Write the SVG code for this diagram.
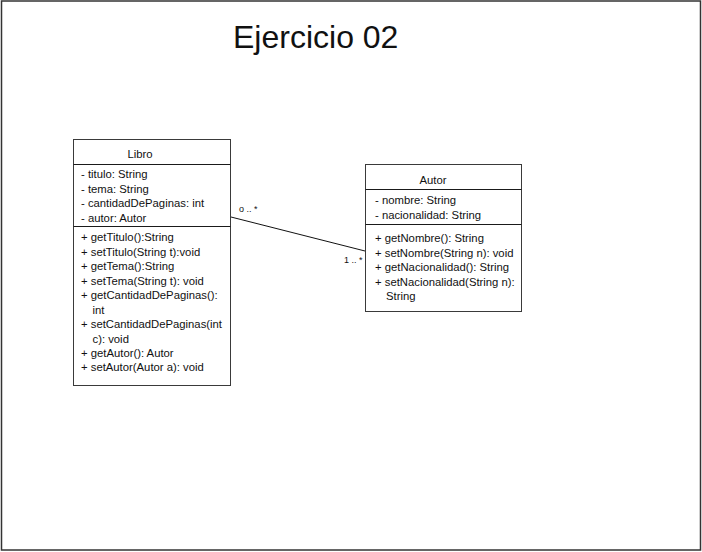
<svg xmlns="http://www.w3.org/2000/svg" width="702" height="552" viewBox="0 0 702 552">
<style>
.box{fill:#fff;stroke:#3a3a3a;stroke-width:1}
.sep{stroke:#1a1a1a;stroke-width:1}
.t{font-family:"Liberation Sans",Arial,sans-serif;font-size:11.3px;fill:#111}
.c{text-anchor:middle}
.lbl{font-family:"Liberation Sans",Arial,sans-serif;font-size:9px;fill:#111}
</style>
<rect x="0" y="0" width="702" height="552" fill="#fff"/>
<rect x="1.5" y="1" width="699" height="549" fill="none" stroke="#333" stroke-width="1.5"/>
<text x="233" y="48" font-family="Liberation Sans,Arial,sans-serif" font-size="32" fill="#111">Ejercicio 02</text>
<g id="connectors">
<line x1="231" y1="217" x2="365" y2="251" stroke="#111" stroke-width="1"/>
<text class="lbl" x="239" y="212">o .. *</text>
<text class="lbl" x="344" y="263">1 .. *</text>
</g>
<g id="libro">
<rect class="box" x="73.5" y="139.5" width="157" height="246"/>
<line class="sep" x1="73.5" y1="164.5" x2="230.5" y2="164.5"/>
<line class="sep" x1="73.5" y1="226.5" x2="230.5" y2="226.5"/>
<text class="t c" x="140" y="158">Libro</text>
<text class="t" x="81" y="178">- titulo: String</text>
<text class="t" x="81" y="192.5">- tema: String</text>
<text class="t" x="81" y="207">- cantidadDePaginas: int</text>
<text class="t" x="81" y="222">- autor: Autor</text>
<text class="t" x="81" y="241">+ getTitulo():String</text>
<text class="t" x="81" y="256">+ setTitulo(String t):void</text>
<text class="t" x="81" y="270">+ getTema():String</text>
<text class="t" x="81" y="284.5">+ setTema(String t): void</text>
<text class="t" x="81" y="299">+ getCantidadDePaginas():</text>
<text class="t" x="92.5" y="313.5">int</text>
<text class="t" x="81" y="328">+ setCantidadDePaginas(int</text>
<text class="t" x="92.5" y="342.5">c): void</text>
<text class="t" x="81" y="356.5">+ getAutor(): Autor</text>
<text class="t" x="81" y="371">+ setAutor(Autor a): void</text>
</g>
<g id="autor">
<rect class="box" x="365.5" y="164.5" width="156" height="147"/>
<line class="sep" x1="365.5" y1="189.5" x2="521.5" y2="189.5"/>
<line class="sep" x1="365.5" y1="224.5" x2="521.5" y2="224.5"/>
<text class="t c" x="433" y="183.5">Autor</text>
<text class="t" x="375" y="204">- nombre: String</text>
<text class="t" x="375" y="218.5">- nacionalidad: String</text>
<text class="t" x="375" y="242">+ getNombre(): String</text>
<text class="t" x="375" y="256.5">+ setNombre(String n): void</text>
<text class="t" x="375" y="271">+ getNacionalidad(): String</text>
<text class="t" x="375" y="285.5">+ setNacionalidad(String n):</text>
<text class="t" x="386" y="300">String</text>
</g>
</svg>
